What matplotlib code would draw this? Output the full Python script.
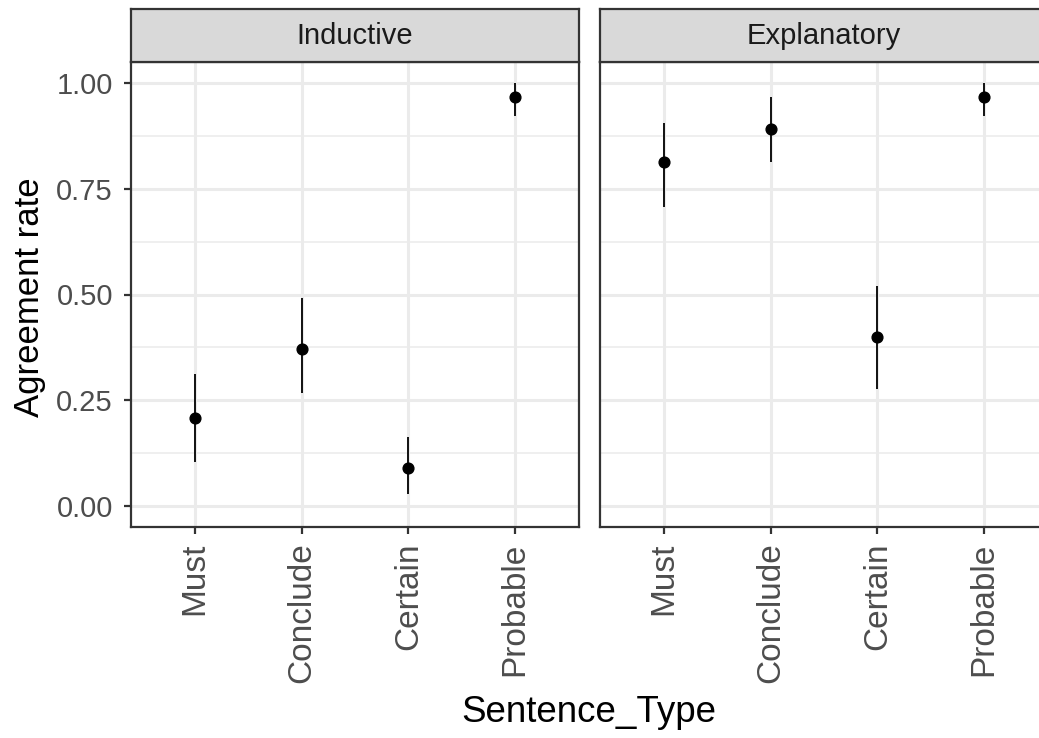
import matplotlib.pyplot as plt
import numpy as np

plt.rcParams['font.family'] = ['Liberation Sans', 'DejaVu Sans']

sentence_types = ['Must', 'Conclude', 'Certain', 'Probable']
panels = ['Inductive', 'Explanatory']

# agreement rate and interval ends, per panel
inductive_rate = [0.209, 0.372, 0.090, 0.968]
inductive_lo = [0.104, 0.268, 0.029, 0.923]
inductive_hi = [0.313, 0.492, 0.163, 1.0]

explanatory_rate = [0.814, 0.891, 0.399, 0.968]
explanatory_lo = [0.706, 0.814, 0.276, 0.922]
explanatory_hi = [0.906, 0.968, 0.521, 1.0]

rates = [inductive_rate, explanatory_rate]
los = [inductive_lo, explanatory_lo]
his = [inductive_hi, explanatory_hi]

W, H = 1039, 738
fig = plt.figure(figsize=(W / 100, H / 100), dpi=100)

grey20 = '#333333'
grey30 = '#4D4D4D'
grid_col = '#EBEBEB'

panel_left = [131, 600]
panel_w = 448
panel_top, panel_bottom = 62, 527
strip_top = 9

x = np.arange(len(sentence_types))
for i, name in enumerate(panels):
    ax = fig.add_axes([panel_left[i] / W, (H - panel_bottom) / H,
                       panel_w / W, (panel_bottom - panel_top) / H])
    ax.set_xlim(-0.6, len(sentence_types) - 0.4)
    ax.set_ylim(-0.05, 1.05)
    ax.set_yticks([0, 0.25, 0.5, 0.75, 1.0])
    ax.set_yticks([0.125, 0.375, 0.625, 0.875], minor=True)
    ax.set_xticks(x)
    ax.set_xticklabels(sentence_types, rotation=90, fontsize=24, color=grey30)
    ax.grid(True, which='major', color=grid_col, lw=2.2)
    ax.grid(True, which='minor', axis='y', color=grid_col, lw=1.1)
    ax.set_axisbelow(True)
    ax.tick_params(which='minor', length=0)
    ax.tick_params(which='major', length=5, width=1.6, color=grey20, pad=6)
    if i == 0:
        ax.set_yticklabels(['0.00', '0.25', '0.50', '0.75', '1.00'], fontsize=21, color=grey30)
        ax.tick_params(axis='y', pad=8)
    else:
        ax.tick_params(axis='y', which='major', length=0, labelleft=False)
    for sp in ax.spines.values():
        sp.set_color(grey20)
        sp.set_linewidth(1.6)

    r = np.array(rates[i])
    ax.vlines(x, los[i], his[i], color='black', lw=1.3, zorder=3)
    ax.scatter(x, r, s=60, color='black', zorder=4)

    sax = fig.add_axes([panel_left[i] / W, (H - panel_top) / H,
                        panel_w / W, (panel_top - strip_top) / H])
    sax.set_facecolor('#D9D9D9')
    sax.set_xticks([])
    sax.set_yticks([])
    for sp in sax.spines.values():
        sp.set_color(grey20)
        sp.set_linewidth(1.6)
    sax.text(0.5, 0.5, name, ha='center', va='center', fontsize=21, color='#1A1A1A',
             transform=sax.transAxes)

fig.text(589 / W, 1 - 713 / H, 'Sentence_Type', ha='center', va='center', fontsize=26.5)
fig.text(30 / W, 1 - 297 / H, 'Agreement rate', ha='center', va='center', fontsize=25,
         rotation=90)

fig.savefig('out.png', dpi=100)
